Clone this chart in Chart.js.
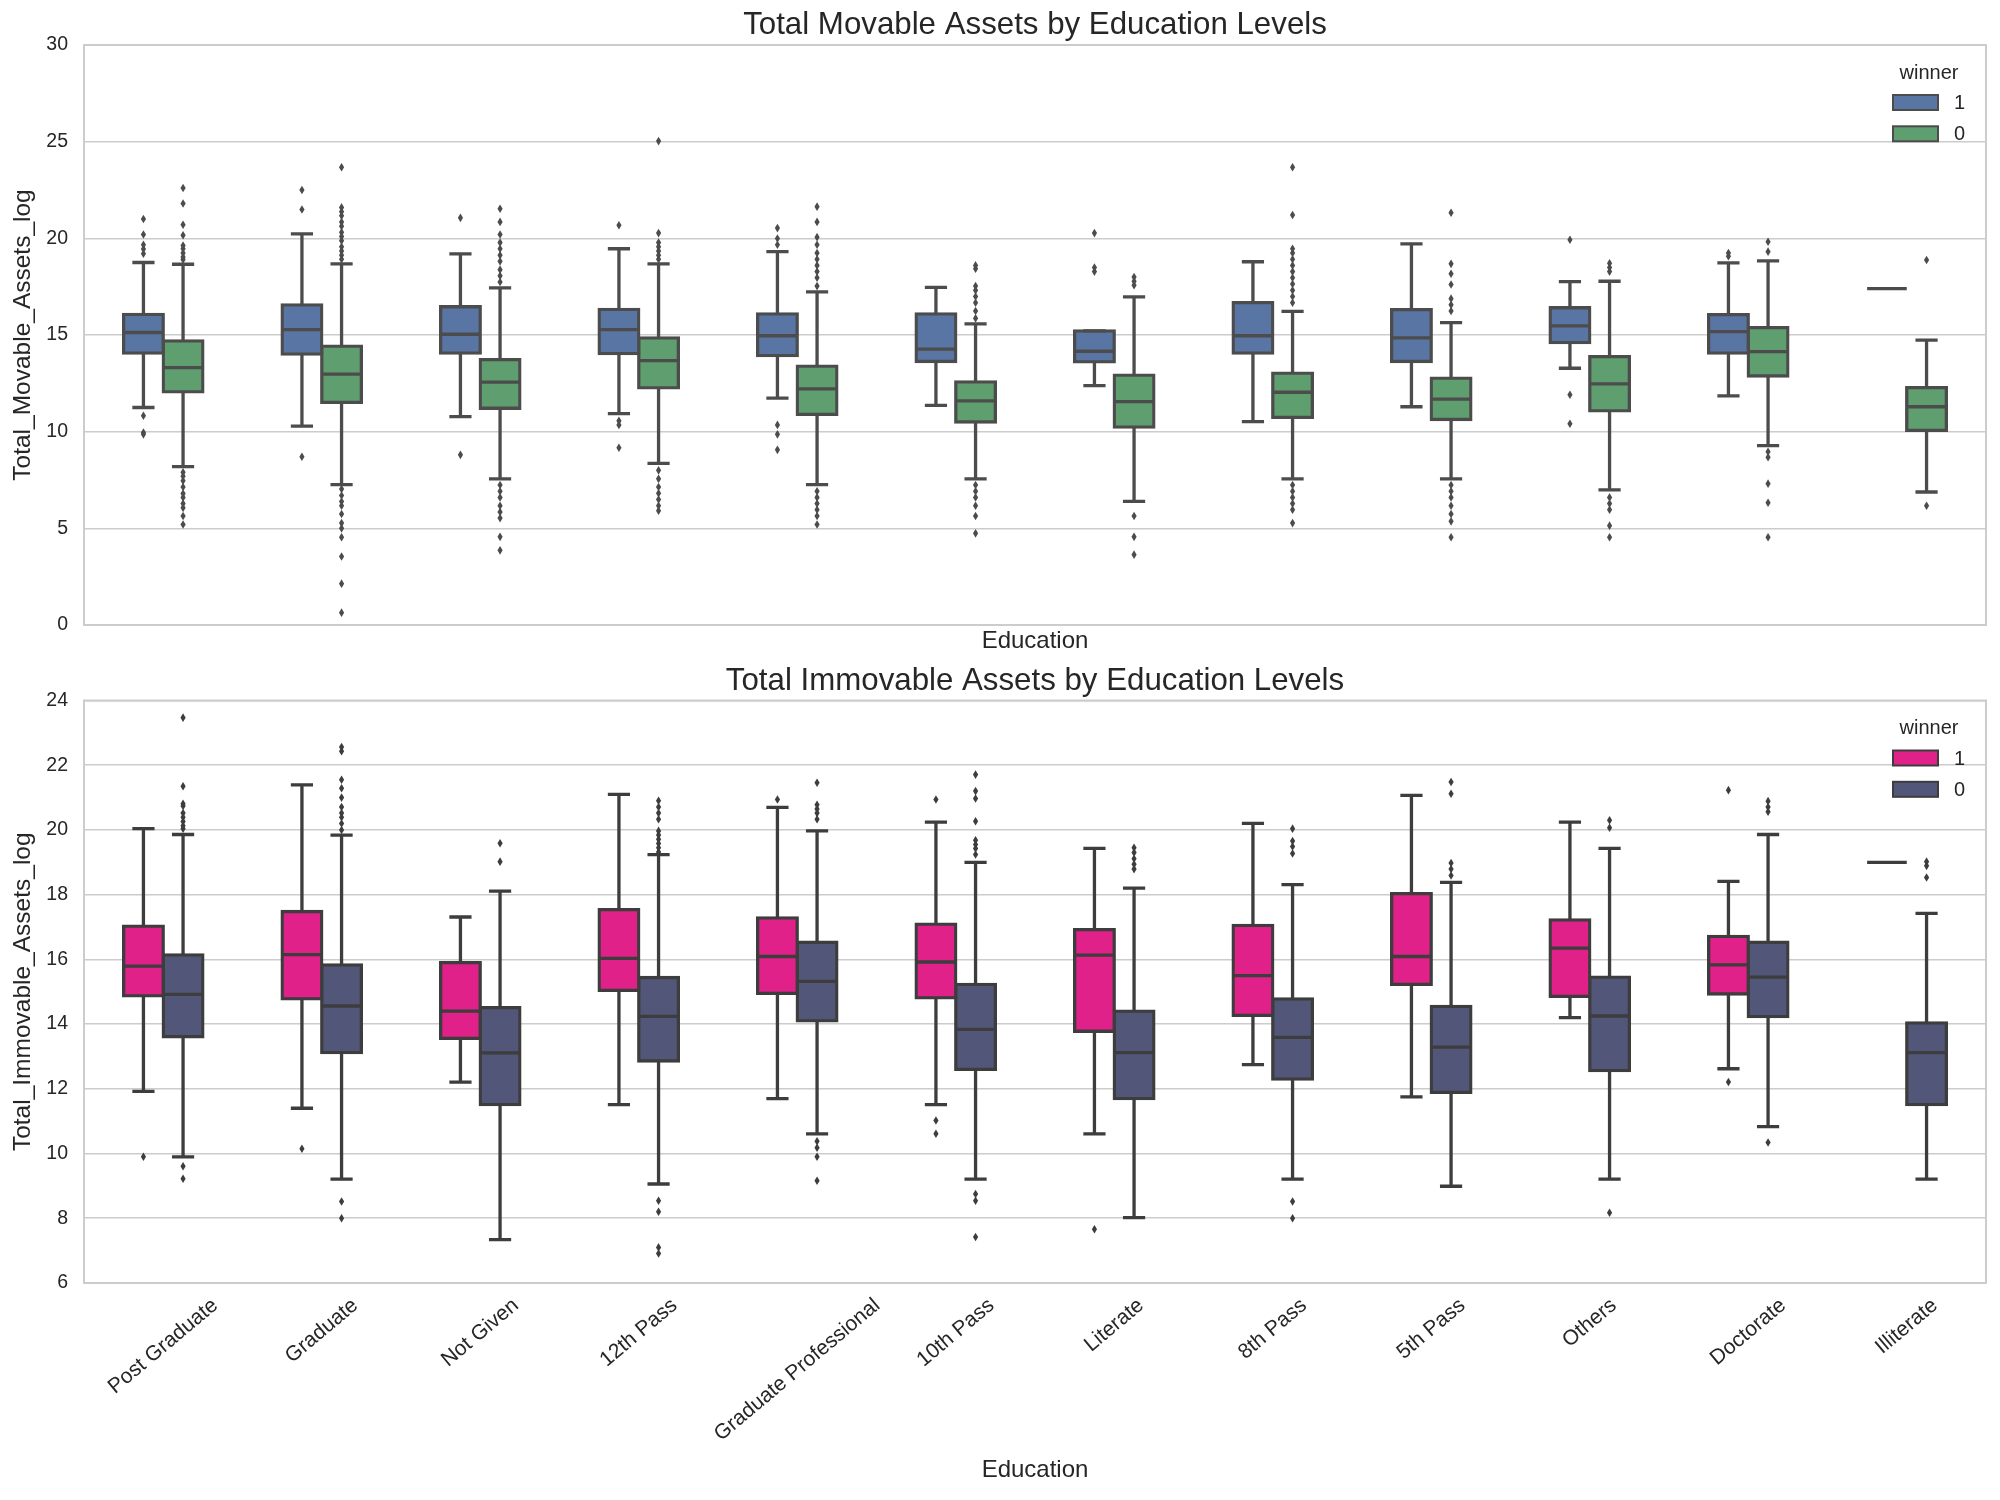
<!DOCTYPE html>
<html>
<head>
<meta charset="utf-8">
<script src="https://cdn.jsdelivr.net/npm/chart.js@4.4.0/dist/chart.umd.min.js"></script>
<style>
html,body{margin:0;padding:0;background:#ffffff;}
#wrap{position:relative;width:2000px;height:1500px;background:#fff;}
#box1{position:absolute;left:0;top:0;width:2000px;height:661px;}
#box2{position:absolute;left:0;top:661px;width:2000px;height:839px;}
</style>
</head>
<body>
<div id="wrap">
  <div id="box1"><canvas id="c1"></canvas></div>
  <div id="box2"><canvas id="c2"></canvas></div>
</div>
<script>
// ---------- categories / labels ----------
const categories = ['Post Graduate','Graduate','Not Given','12th Pass','Graduate Professional','10th Pass','Literate','8th Pass','5th Pass','Others','Doctorate','Illiterate'];
const winnerLabels = ['1','0'];
const movYTicks = {min:0, max:30, step:5};
const immYTicks = {min:6, max:24, step:2};

// ---------- Total_Movable_Assets_log, winner = 1 ----------
const movWinLow  = [11.25,10.29,10.78,10.93,11.74,11.36,12.38,10.52,11.29,13.28,11.85,17.4];
const movWinQ1   = [14.06,14.01,14.06,14.04,13.93,13.63,13.61,14.06,13.63,14.61,14.06,17.4];
const movWinMed  = [15.13,15.28,15.04,15.28,14.96,14.27,14.16,14.96,14.85,15.47,15.17,17.4];
const movWinQ3   = [16.07,16.56,16.46,16.33,16.09,16.09,15.21,16.67,16.31,16.41,16.05,17.4];
const movWinHigh = [18.75,20.23,19.2,19.46,19.31,17.46,15.21,18.79,19.71,17.76,18.73,17.4];
const movWinOut  = [
  [21.0,20.2,19.67,19.45,19.2,10.82,9.96,9.86],
  [22.5,21.49,8.7],
  [21.06,8.8],
  [20.68,10.56,10.35,9.17],
  [20.53,19.99,19.67,10.35,9.86,9.06],
  [],
  [20.27,18.49,18.28],
  [],
  [],
  [19.93,11.91,10.41],
  [19.24,19.07],
  []
];

// ---------- Total_Movable_Assets_log, winner = 0 ----------
const movLoseLow  = [8.19,7.26,7.56,8.36,7.26,7.56,6.39,7.56,7.56,6.99,9.28,6.88];
const movLoseQ1   = [12.06,11.51,11.21,12.26,10.89,10.5,10.24,10.74,10.63,11.08,12.88,10.07];
const movLoseMed  = [13.31,12.98,12.56,13.67,12.21,11.59,11.55,12.04,11.68,12.47,14.14,11.29];
const movLoseQ3   = [14.7,14.42,13.73,14.85,13.39,12.58,12.92,13.03,12.77,13.88,15.38,12.28];
const movLoseHigh = [18.66,18.68,17.44,18.68,17.23,15.58,16.97,16.22,15.64,17.78,18.83,14.74];
const movLoseOut  = [
  [22.6,21.8,20.7,20.16,19.63,19.46,19.24,19.03,18.9,7.9,7.7,7.46,7.14,6.8,6.6,6.28,6.06,5.64,5.2],
  [23.68,21.6,21.38,21.17,20.85,20.63,20.31,20.1,19.88,19.56,19.35,19.13,18.92,7.03,6.7,6.39,6.17,5.74,5.27,5.0,4.54,3.54,2.14,0.64],
  [21.53,20.85,20.2,19.78,19.46,19.13,18.81,18.38,18.06,17.74,7.24,6.92,6.6,6.17,5.85,5.53,4.56,3.86],
  [25.03,20.27,19.78,19.56,19.35,19.13,18.92,8.0,7.56,7.14,6.81,6.49,6.17,5.91],
  [21.64,20.85,20.06,19.67,19.24,18.92,18.6,18.28,17.96,17.53,6.92,6.6,6.28,5.96,5.64,5.2],
  [18.6,18.43,17.53,17.31,16.99,16.67,16.24,15.86,7.24,6.92,6.6,6.17,5.64,4.74],
  [18.0,17.78,17.57,5.64,4.56,3.64],
  [23.68,21.21,19.46,19.24,18.92,18.6,18.28,17.96,17.64,17.31,16.99,16.67,7.24,6.92,6.6,6.28,5.96,5.27],
  [21.32,18.68,18.17,17.61,16.88,16.56,16.24,7.24,6.92,6.6,6.17,5.74,5.36,4.54],
  [18.71,18.49,18.28,6.6,6.28,5.96,5.14,4.54],
  [19.82,19.31,8.96,8.68,7.31,6.32,4.54],
  [18.88,6.17]
];

// ---------- Total_Immovable_Assets_log, winner = 1 ----------
const immWinLow  = [11.92,11.4,12.21,11.51,11.7,11.51,10.61,12.75,11.75,14.2,12.62,19.0];
const immWinQ1   = [14.87,14.78,13.56,15.04,14.95,14.81,13.78,14.27,15.23,14.86,14.93,19.0];
const immWinMed  = [15.79,16.15,14.4,16.03,16.09,15.92,16.13,15.5,16.09,16.35,15.83,19.0];
const immWinQ3   = [17.03,17.48,15.9,17.54,17.28,17.09,16.92,17.05,18.03,17.22,16.71,19.0];
const immWinHigh = [20.04,21.39,17.31,21.1,20.7,20.24,19.43,20.2,21.07,20.24,18.41,19.0];
const immWinOut  = [
  [9.9],[10.15],[],[],[20.94],[20.94,11.02,10.61],[7.66],[],[],[],[21.23,12.21],[]
];

// ---------- Total_Immovable_Assets_log, winner = 0 ----------
const immLoseLow  = [9.9,9.21,7.34,9.06,10.61,9.21,8.02,9.21,8.99,9.21,10.83,9.21];
const immLoseQ1   = [13.61,13.12,11.51,12.86,14.1,12.6,11.7,12.3,11.89,12.56,14.23,11.51];
const immLoseMed  = [14.92,14.56,13.11,14.24,15.32,13.84,13.12,13.59,13.29,14.25,15.45,13.12];
const immLoseQ3   = [16.14,15.83,14.51,15.44,16.53,15.23,14.4,14.78,14.55,15.45,16.53,14.04];
const immLoseHigh = [19.86,19.84,18.11,19.24,19.97,19.0,18.2,18.31,18.38,19.43,19.86,17.42];
const immLoseOut  = [
  [23.47,21.35,20.81,20.74,20.52,20.39,20.26,20.13,20.04,9.61,9.22],
  [22.56,22.43,21.55,21.29,21.0,20.71,20.52,20.39,20.2,20.0,8.52,8.0],
  [19.59,19.02],
  [20.9,20.71,20.52,20.33,19.97,19.84,19.71,19.58,19.45,19.32,8.54,8.2,7.1,6.91],
  [21.46,20.78,20.65,20.52,20.33,10.38,10.18,9.9,9.16],
  [21.71,21.2,20.97,20.27,19.68,19.55,19.43,19.24,8.75,8.54,7.42],
  [19.45,19.3,19.11,18.94,18.79],
  [20.04,19.66,19.49,19.27,8.52,8.0],
  [21.48,21.12,18.98,18.79,18.59],
  [20.3,20.07,8.17],
  [20.89,20.71,20.56,10.34],
  [19.02,18.89,18.53]
];

// ---------- styling ----------
const FONT = "'Liberation Sans', Arial, Helvetica, sans-serif";
const TEXT = '#262626';
const GRID = '#cccccc';
const LW = 3.3;

function boxDataset(label, color, lineColor, lo, q1, med, q3, hi, out) {
  return {
    label: label,
    data: q1.map((v, i) => [v, q3[i]]),
    backgroundColor: c => (q1[c.dataIndex] === q3[c.dataIndex] ? 'rgba(0,0,0,0)' : color),
    borderColor: lineColor,
    borderWidth: c => (q1[c.dataIndex] === q3[c.dataIndex] ? 0 : LW),
    borderSkipped: false,
    inflateAmount: LW / 2,
    categoryPercentage: 0.5,
    barPercentage: 1.0,
    stats: {lo: lo, med: med, hi: hi, out: out, color: color, lineColor: lineColor}
  };
}

const boxExtras = {
  id: 'boxExtras',
  beforeDatasetsDraw(chart) {
    const {ctx, chartArea: a} = chart;
    ctx.save();
    ctx.strokeStyle = GRID;
    ctx.lineWidth = 2;
    ctx.strokeRect(a.left, a.top, a.right - a.left, a.bottom - a.top);
    ctx.restore();
  },
  afterDatasetsDraw(chart) {
    const {ctx} = chart;
    const ys = chart.scales.y;
    chart.data.datasets.forEach((ds, d) => {
      const meta = chart.getDatasetMeta(d);
      const s = ds.stats;
      meta.data.forEach((bar, i) => {
        const x = bar.x, w = bar.width;
        const yq1 = ys.getPixelForValue(ds.data[i][0]);
        const yq3 = ys.getPixelForValue(ds.data[i][1]);
        const ylo = ys.getPixelForValue(s.lo[i]);
        const yhi = ys.getPixelForValue(s.hi[i]);
        const ymed = ys.getPixelForValue(s.med[i]);
        ctx.save();
        ctx.strokeStyle = s.lineColor;
        ctx.lineWidth = LW;
        ctx.lineCap = 'butt';
        ctx.beginPath();
        ctx.moveTo(x, yq3); ctx.lineTo(x, yhi);
        ctx.moveTo(x, yq1); ctx.lineTo(x, ylo);
        const cw = w * 0.28;
        ctx.moveTo(x - cw, yhi); ctx.lineTo(x + cw, yhi);
        ctx.moveTo(x - cw, ylo); ctx.lineTo(x + cw, ylo);
        ctx.moveTo(x - w / 2, ymed); ctx.lineTo(x + w / 2, ymed);
        ctx.stroke();
        ctx.fillStyle = s.lineColor;
        s.out[i].forEach(v => {
          const py = ys.getPixelForValue(v);
          ctx.beginPath();
          ctx.moveTo(x, py - 4.3);
          ctx.lineTo(x + 2.6, py);
          ctx.lineTo(x, py + 4.3);
          ctx.lineTo(x - 2.6, py);
          ctx.closePath();
          ctx.fill();
        });
        ctx.restore();
      });
    });
  },
  afterDraw(chart) {
    const {ctx, chartArea: a} = chart;
    const opts = chart.options.plugins.boxExtras;
    // rotated, centred category labels
    if (opts.xLabels) {
      const xs = chart.scales.x;
      const ang = 40 * Math.PI / 180;
      ctx.save();
      ctx.font = '21px ' + FONT;
      ctx.fillStyle = TEXT;
      ctx.textAlign = 'center';
      ctx.textBaseline = 'middle';
      categories.forEach((lab, i) => {
        const tw = ctx.measureText(lab).width;
        const h = 23;
        const bh = tw * Math.sin(ang) + h * Math.cos(ang);
        const cx = xs.getPixelForValue(i);
        const cy = a.bottom + 11 + bh / 2;
        ctx.save();
        ctx.translate(cx, cy);
        ctx.rotate(-ang);
        ctx.fillText(lab, 0, 0);
        ctx.restore();
      });
      ctx.restore();
    }
    // legend
    ctx.save();
    ctx.fillStyle = TEXT;
    ctx.font = '20px ' + FONT;
    ctx.textAlign = 'center';
    ctx.textBaseline = 'middle';
    ctx.fillText('winner', a.right - 57, a.top + 28);
    const rows = [a.top + 57.5, a.top + 88.8];
    chart.data.datasets.forEach((ds, d) => {
      const cy = rows[d];
      ctx.fillStyle = ds.stats.color;
      ctx.fillRect(a.right - 93, cy - 7.5, 45, 15);
      ctx.strokeStyle = ds.stats.lineColor;
      ctx.lineWidth = 2;
      ctx.strokeRect(a.right - 93, cy - 7.5, 45, 15);
      ctx.fillStyle = TEXT;
      ctx.textAlign = 'left';
      ctx.fillText(ds.label, a.right - 32, cy + 1);
    });
    ctx.restore();
  }
};

function makeChart(id, cfg) {
  return new Chart(document.getElementById(id), {
    type: 'bar',
    data: {labels: categories, datasets: cfg.datasets},
    plugins: [boxExtras],
    options: {
      responsive: true,
      maintainAspectRatio: false,
      devicePixelRatio: 1,
      animation: false,
      layout: {padding: {left: 0, right: 14, top: 0, bottom: 0}},
      plugins: {
        legend: {display: false},
        tooltip: {enabled: false},
        title: {
          display: true, text: cfg.title, fullSize: false,
          font: {size: 31.25, family: FONT, weight: 'normal'}, color: TEXT,
          padding: cfg.titlePad
        },
        boxExtras: {xLabels: cfg.xLabels}
      },
      scales: {
        x: {
          type: 'category',
          offset: true,
          grid: {display: false},
          border: {display: false},
          ticks: {display: false},
          title: {display: true, text: 'Education', font: {size: 24, family: FONT}, color: TEXT, padding: {top: 0, bottom: cfg.xTitlePadBottom}},
          afterFit: s => { s.height = cfg.xHeight; }
        },
        y: {
          min: cfg.yTicks.min, max: cfg.yTicks.max,
          grid: {color: GRID, lineWidth: 1.6, drawTicks: false},
          border: {display: false},
          ticks: {stepSize: cfg.yTicks.step, padding: 16, font: {size: 19.5, family: FONT}, color: TEXT},
          title: {display: true, text: cfg.yTitle, font: {size: 24.5, family: FONT}, color: TEXT, padding: {top: 9, bottom: 0}},
          afterFit: s => { s.width = 84; }
        }
      }
    }
  });
}

makeChart('c1', {
  title: 'Total Movable Assets by Education Levels',
  titlePad: {top: 7, bottom: 0.5},
  yTitle: 'Total_Movable_Assets_log',
  yTicks: movYTicks,
  xHeight: 36, xTitlePadBottom: 5, xLabels: false,
  datasets: [
    boxDataset(winnerLabels[0], '#5975A4', '#4c4c4c', movWinLow, movWinQ1, movWinMed, movWinQ3, movWinHigh, movWinOut),
    boxDataset(winnerLabels[1], '#5F9E6E', '#4c4c4c', movLoseLow, movLoseQ1, movLoseMed, movLoseQ3, movLoseHigh, movLoseOut)
  ]
});

makeChart('c2', {
  title: 'Total Immovable Assets by Education Levels',
  titlePad: {top: 2, bottom: 0},
  yTitle: 'Total_Immovable_Assets_log',
  yTicks: immYTicks,
  xHeight: 217, xTitlePadBottom: 15, xLabels: true,
  datasets: [
    boxDataset(winnerLabels[0], '#E0218A', '#3d3d3d', immWinLow, immWinQ1, immWinMed, immWinQ3, immWinHigh, immWinOut),
    boxDataset(winnerLabels[1], '#52577A', '#3d3d3d', immLoseLow, immLoseQ1, immLoseMed, immLoseQ3, immLoseHigh, immLoseOut)
  ]
});
</script>
</body>
</html>
